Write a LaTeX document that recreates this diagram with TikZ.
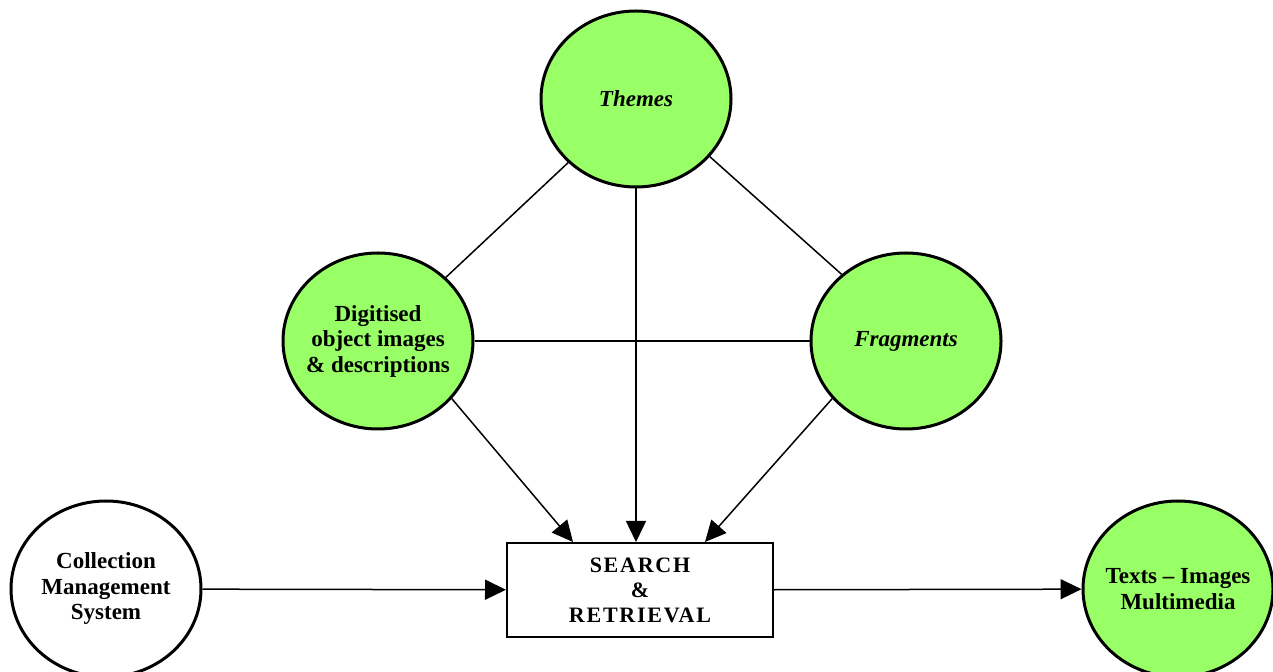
\documentclass[tikz,border=0pt]{standalone}
\usepackage{fontspec}
\setmainfont{Liberation Serif}
\usepackage{tikz}
\usetikzlibrary{arrows.meta,calc,shapes.geometric}

\definecolor{leaf}{RGB}{153,255,102}

\begin{document}
\begin{tikzpicture}[
      x=0.5pt, y=-0.5pt,
      blob/.style={ellipse, draw, line width=1.5pt, fill=leaf, minimum width=95pt, minimum height=88pt,
        inner xsep=-5pt, inner ysep=0pt, align=center, font=\fontsize{11.5}{12.75}\selectfont\bfseries},
      plain/.style={blob, fill=white},
      hub/.style={draw, line width=1pt, minimum width=133pt, minimum height=47pt, align=center,
        font=\fontsize{11}{12.5}\selectfont\bfseries\addfontfeature{LetterSpace=8}},
      link/.style={line width=0.75pt},
      arr/.style={link, -{Triangle[length=10.5pt, width=10pt]}}]
    \useasboundingbox (0,0) rectangle (1273,672);
    \node[blob] (themes) at (636,99) {\itshape Themes};
    \node[blob] (dig) at (378,341) {Digitised\\object images\\\& descriptions};
    \node[blob] (frag) at (906,341) {\itshape Fragments};
    \node[plain] (cms) at (106,589) {Collection\\Management\\System};
    \node[blob] (out) at (1178,589) {Texts -- Images\\Multimedia};
    \node[hub] (search) at (640,590) {SEARCH\\\&\\RETRIEVAL};
    % plain links between the three sources
    \draw[link] (themes) -- (dig);
    \draw[link] (themes.-38) -- (frag.134);
    \draw[link] (dig) -- (frag);
    % everything feeds into the search box
    \coordinate (inL) at ($(search.north)+(-67,0)$);
    \coordinate (inR) at ($(search.north)+(65,0)$);
    \draw[arr] (dig.-38) -- (inL);
    \draw[arr] (themes.south) -- (themes.south |- search.north);
    \draw[arr] (frag.-142) -- (inR);
    \draw[arr] (cms) -- (search);
    \draw[arr] (search) -- (out);
  \end{tikzpicture}
\end{document}
